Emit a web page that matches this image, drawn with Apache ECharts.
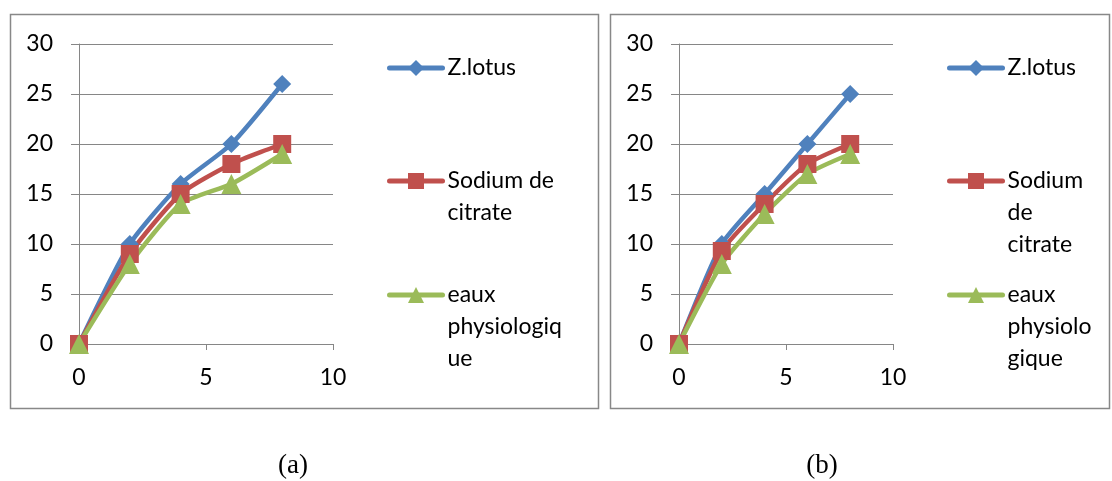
<!DOCTYPE html>
<html><head><meta charset="utf-8">
<script src="https://cdn.jsdelivr.net/npm/echarts@6/dist/echarts.min.js"></script>
<style>html,body{margin:0;padding:0;background:#fff}#c{width:1112px;height:481px}</style>
</head><body><div id="c"></div>
<script>
const xValues = [0, 2, 4, 6, 8];
const seriesNames = ['Z.lotus', 'Sodium de citrate', 'eaux physiologique'];
const aZlotus = [0, 10, 16, 20, 26];
const aSodium = [0, 9, 15, 18, 20];
const aEaux = [0, 8, 14, 16, 19];
const bZlotus = [0, 10, 15, 20, 25];
const bSodium = [0, 9.3, 14, 18, 20];
const bEaux = [0, 8, 13, 17, 19];
const legendLabelsA = ['Z.lotus', 'Sodium de\ncitrate', 'eaux\nphysiologiq\nue'];
const legendLabelsB = ['Z.lotus', 'Sodium\nde\ncitrate', 'eaux\nphysiolo\ngique'];
const panelLabels = ['(a)', '(b)'];

const colors = ['#4F81BD', '#C0504D', '#9BBB59'];
const symbols = ['diamond', 'rect', 'triangle'];
const symSizes = [18, 18, 20];
const FONT = 'Lato';
const FS = 23;
const LH = 32;

const chart = echarts.init(document.getElementById('c'), null, {renderer: 'canvas'});

function mkAxes(i) {
  return {
    x: {type: 'value', gridIndex: i, min: 0, max: 10, interval: 5,
      axisLine: {onZero: false, lineStyle: {color: '#868686', width: 1}},
      axisTick: {show: true, length: 6, lineStyle: {color: '#868686'}},
      splitLine: {show: false},
      axisLabel: {color: '#000', fontFamily: FONT, fontSize: FS, margin: 22}},
    y: {type: 'value', gridIndex: i, min: 0, max: 30, interval: 5,
      axisLine: {show: true, lineStyle: {color: '#868686', width: 1}},
      axisTick: {show: true, length: 8, lineStyle: {color: '#868686'}},
      splitLine: {show: true, lineStyle: {color: '#868686', width: 1}},
      axisLabel: {color: '#000', fontFamily: FONT, fontSize: FS, margin: 26}}
  };
}
const axA = mkAxes(0), axB = mkAxes(1);

function mkSeries(data, k, idx, name) {
  return {
    type: 'line', name: name, xAxisIndex: idx, yAxisIndex: idx,
    data: xValues.map((x, j) => [x, data[j]]),
    smooth: 0.2, symbol: symbols[k], symbolSize: symSizes[k],
    lineStyle: {color: colors[k], width: 4.5},
    itemStyle: {color: colors[k]},
    emphasis: {disabled: true}, animation: false
  };
}

// first text line sits level with the icon: pad the top with blank lines
function mkLegend(name, label, left, firstLineCenter) {
  const n = label.split('\n').length;
  const padded = Array(n - 1).fill(' ').concat(label.split('\n')).join('\n');
  return {
    data: [name], left: left, top: firstLineCenter - LH / 2 - (n - 1) * LH,
    orient: 'vertical',
    itemWidth: 53, itemHeight: 20, itemGap: 0, padding: 0,
    selectedMode: false,
    lineStyle: {width: 5, cap: 'round'},
    formatter: () => padded,
    textStyle: {fontFamily: FONT, fontSize: FS, color: '#000', lineHeight: LH}
  };
}

const legends = [];
const legCenters = [68, 181, 295];
[0, 1, 2].forEach(k => legends.push(mkLegend(seriesNames[k], legendLabelsA[k], 387, legCenters[k])));
[0, 1, 2].forEach(k => legends.push(mkLegend(seriesNames[k], legendLabelsB[k], 947, legCenters[k])));

const option = {
  backgroundColor: '#fff',
  animation: false,
  grid: [
    {left: 79, top: 44, width: 254, height: 300},
    {left: 679, top: 44, width: 214, height: 300}
  ],
  xAxis: [axA.x, axB.x],
  yAxis: [axA.y, axB.y],
  legend: legends,
  series: [
    mkSeries(aZlotus, 0, 0, seriesNames[0]),
    mkSeries(aSodium, 1, 0, seriesNames[1]),
    mkSeries(aEaux, 2, 0, seriesNames[2]),
    mkSeries(bZlotus, 0, 1, seriesNames[0]),
    mkSeries(bSodium, 1, 1, seriesNames[1]),
    mkSeries(bEaux, 2, 1, seriesNames[2])
  ],
  graphic: [
    {type: 'rect', shape: {x: 10.5, y: 14.5, width: 588, height: 394}, style: {fill: null, stroke: '#888', lineWidth: 1.5}, silent: true, z: -1},
    {type: 'rect', shape: {x: 610.5, y: 14.5, width: 499, height: 394}, style: {fill: null, stroke: '#888', lineWidth: 1.5}, silent: true, z: -1},
    {type: 'text', x: 293, y: 466, style: {text: panelLabels[0], font: '27px "Liberation Serif"', fill: '#000', align: 'center', verticalAlign: 'middle'}},
    {type: 'text', x: 822, y: 466, style: {text: panelLabels[1], font: '27px "Liberation Serif"', fill: '#000', align: 'center', verticalAlign: 'middle'}}
  ]
};
chart.setOption(option);
</script></body></html>
